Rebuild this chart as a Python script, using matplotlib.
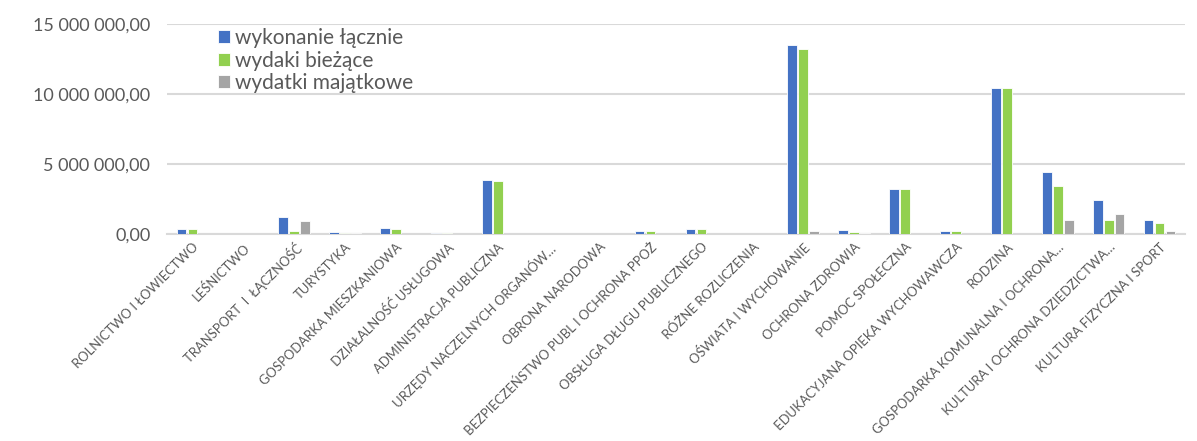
import numpy as np
import matplotlib.pyplot as plt

categories = [
    'ROLNICTWO I ŁOWIECTWO', 'LEŚNICTWO', 'TRANSPORT  I  ŁĄCZNOŚĆ', 'TURYSTYKA',
    'GOSPODARKA MIESZKANIOWA', 'DZIAŁALNOŚĆ USŁUGOWA', 'ADMINISTRACJA PUBLICZNA',
    'URZĘDY NACZELNYCH ORGANÓW…', 'OBRONA NARODOWA',
    'BEZPIECZEŃSTWO PUBL I OCHRONA PPOŻ', 'OBSŁUGA DŁUGU PUBLICZNEGO',
    'RÓŻNE ROZLICZENIA', 'OŚWIATA I WYCHOWANIE', 'OCHRONA ZDROWIA',
    'POMOC SPOŁECZNA', 'EDUKACYJANA OPIEKA WYCHOWAWCZA', 'RODZINA',
    'GOSPODARKA KOMUNALNA I OCHRONA…', 'KULTURA I OCHRONA DZIEDZICTWA…',
    'KULTURA FIZYCZNA I SPORT',
]

wykonanie = [360000, 0, 1200000, 110000, 440000, 50000, 3850000, 30000, 0,
             230000, 330000, 0, 13500000, 270000, 3220000, 190000, 10400000,
             4450000, 2450000, 1030000]
biezace = [340000, 0, 240000, 40000, 380000, 40000, 3760000, 20000, 0,
           220000, 330000, 0, 13220000, 130000, 3220000, 190000, 10400000,
           3430000, 1000000, 800000]
majatkowe = [0, 0, 920000, 40000, 0, 30000, 20000, 20000, 0,
             0, 0, 0, 240000, 90000, 0, 0, 0,
             1000000, 1400000, 200000]

series = [('wykonanie łącznie', wykonanie, '#4472C4'),
          ('wydaki bieżące', biezace, '#92D050'),
          ('wydatki majątkowe', majatkowe, '#A5A5A5')]

plt.rcParams['font.family'] = ['Lato', 'DejaVu Sans']

fig = plt.figure(figsize=(11.97, 4.41), dpi=100)
ax = fig.add_axes([0.1395, 0.4694, 0.8505, 0.4762])

x = np.arange(len(categories))
offsets = [-0.215, 0.0, 0.215]
for (name, vals, col), off in zip(series, offsets):
    ax.bar(x + off, vals, width=0.19, color=col, edgecolor='white',
           linewidth=0.6, label=name, zorder=3)

ax.set_xlim(-0.5, len(categories) - 0.5)
ax.set_ylim(0, 15000000)
ax.set_yticks([0, 5000000, 10000000, 15000000])
ax.set_yticklabels(['0,00', '5 000 000,00', '10 000 000,00', '15 000 000,00'],
                   fontsize=13, color='#595959')
ax.grid(axis='y', color='#D9D9D9', linewidth=1.5, zorder=0)
for s in ['top', 'right', 'left']:
    ax.spines[s].set_visible(False)
ax.spines['bottom'].set_color('#D9D9D9')
ax.spines['bottom'].set_linewidth(1.5)
ax.tick_params(length=0, pad=12)

ax.set_xticks(x)
ax.set_xticklabels(categories, rotation=45, ha='right', rotation_mode='anchor',
                   fontsize=9.4, color='#595959')
ax.tick_params(axis='x', pad=5)

leg = ax.legend(loc='upper left', bbox_to_anchor=(0.042, 1.02), frameon=False,
                fontsize=15, handlelength=0.55, handleheight=0.55,
                handletextpad=0.25, labelspacing=0.12, borderaxespad=0)
for t in leg.get_texts():
    t.set_color('#595959')

fig.savefig('out.png', dpi=100)
